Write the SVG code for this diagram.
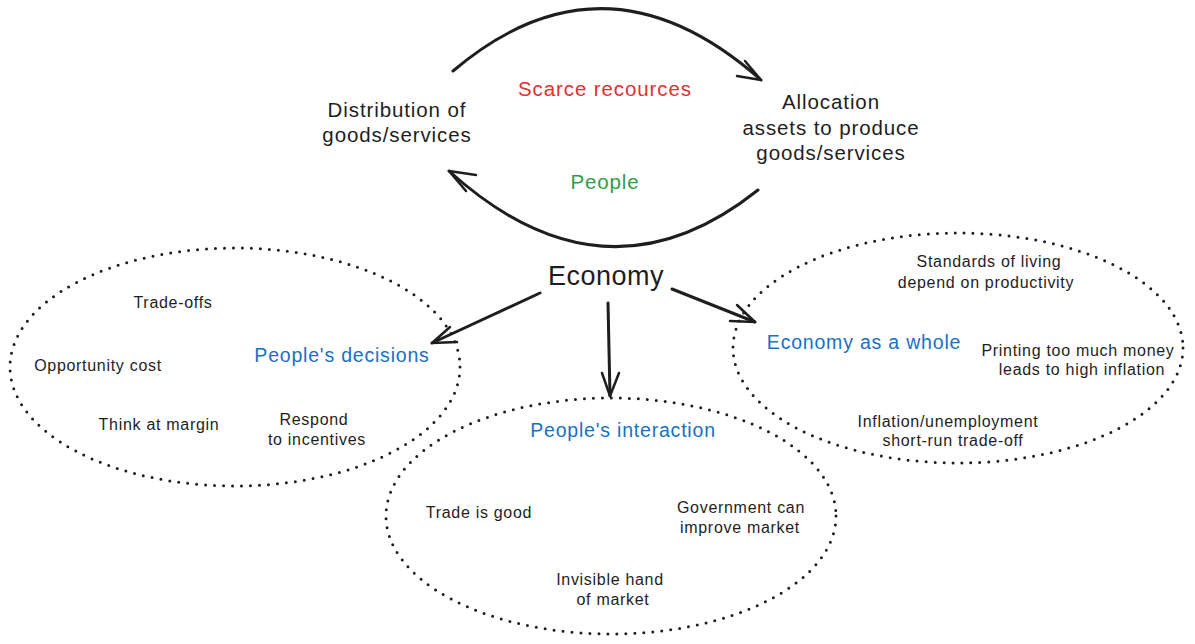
<svg xmlns="http://www.w3.org/2000/svg" width="1195" height="644" viewBox="0 0 1195 644">
<style>
text{font-family:"Liberation Sans","Open Sans",sans-serif;fill:#1e1e1e;text-anchor:middle}
.t{font-size:20.5px;letter-spacing:0.9px}
.s{font-size:16px;letter-spacing:0.7px}
.b{font-size:19.5px;letter-spacing:0.8px;fill:#1971c2}
.red{fill:#e03131}
.grn{fill:#2f9e44}
.eco{font-size:27px;letter-spacing:0.5px}
.ell{fill:none;stroke:#1e1e1e;stroke-width:3;stroke-linecap:round;stroke-dasharray:0 9}
.ln{fill:none;stroke:#1e1e1e;stroke-width:3;stroke-linecap:round;stroke-linejoin:round}
.hd{fill:none;stroke:#1e1e1e;stroke-width:2.5;stroke-linecap:round;stroke-linejoin:round}
</style>
<rect width="1195" height="644" fill="#ffffff"/>
<g id="connectors">
<path class="ln" d="M453,71 Q605,-58 761,80"/>
<path class="hd" d="M745,61 L761,80 L737,76"/>
<path class="ln" d="M758,190 Q605,312 449,171"/>
<path class="hd" d="M476,175 L449,171 L466,191"/>
<path class="ln" d="M540,293 L432,343"/>
<path class="hd" d="M450,327 L432,343 L457,342"/>
<path class="ln" d="M608,303 L610,396"/>
<path class="hd" d="M602,373 L610,396 L619,373"/>
<path class="ln" d="M672,289 L755,322"/>
<path class="hd" d="M737,305 L755,322 L730,321"/>
</g>
<g id="distribution">
<text class="t" x="397" y="117">Distribution of</text>
<text class="t" x="397" y="142">goods/services</text>
</g>
<g id="scarce">
<text class="t red" x="605" y="96">Scarce recources</text>
</g>
<g id="allocation">
<text class="t" x="831" y="109">Allocation</text>
<text class="t" x="831" y="135">assets to produce</text>
<text class="t" x="831" y="160">goods/services</text>
</g>
<g id="people">
<text class="t grn" x="605" y="189">People</text>
</g>
<g id="economy">
<text class="eco" x="606" y="285">Economy</text>
</g>
<g id="decisions">
<ellipse class="ell" cx="235" cy="367" rx="225" ry="119"/>
<text class="b" x="342" y="362">People's decisions</text>
<text class="s" x="173" y="308">Trade-offs</text>
<text class="s" x="98" y="371">Opportunity cost</text>
<text class="s" x="159" y="430">Think at margin</text>
<text class="s" x="314" y="425">Respond</text>
<text class="s" x="317" y="445">to incentives</text>
</g>
<g id="whole">
<ellipse class="ell" cx="958" cy="348" rx="225" ry="115"/>
<text class="b" x="864" y="349">Economy as a whole</text>
<text class="s" x="989" y="267">Standards of living</text>
<text class="s" x="986" y="288">depend on productivity</text>
<text class="s" x="1078" y="356">Printing too much money</text>
<text class="s" x="1082" y="375">leads to high inflation</text>
<text class="s" x="948" y="427">Inflation/unemployment</text>
<text class="s" x="953" y="446">short-run trade-off</text>
</g>
<g id="interaction">
<ellipse class="ell" cx="611" cy="516" rx="225" ry="118"/>
<text class="b" x="623" y="437">People's interaction</text>
<text class="s" x="479" y="518">Trade is good</text>
<text class="s" x="741" y="513">Government can</text>
<text class="s" x="740" y="533">improve market</text>
<text class="s" x="610" y="585">Invisible hand</text>
<text class="s" x="613" y="605">of market</text>
</g>
</svg>
